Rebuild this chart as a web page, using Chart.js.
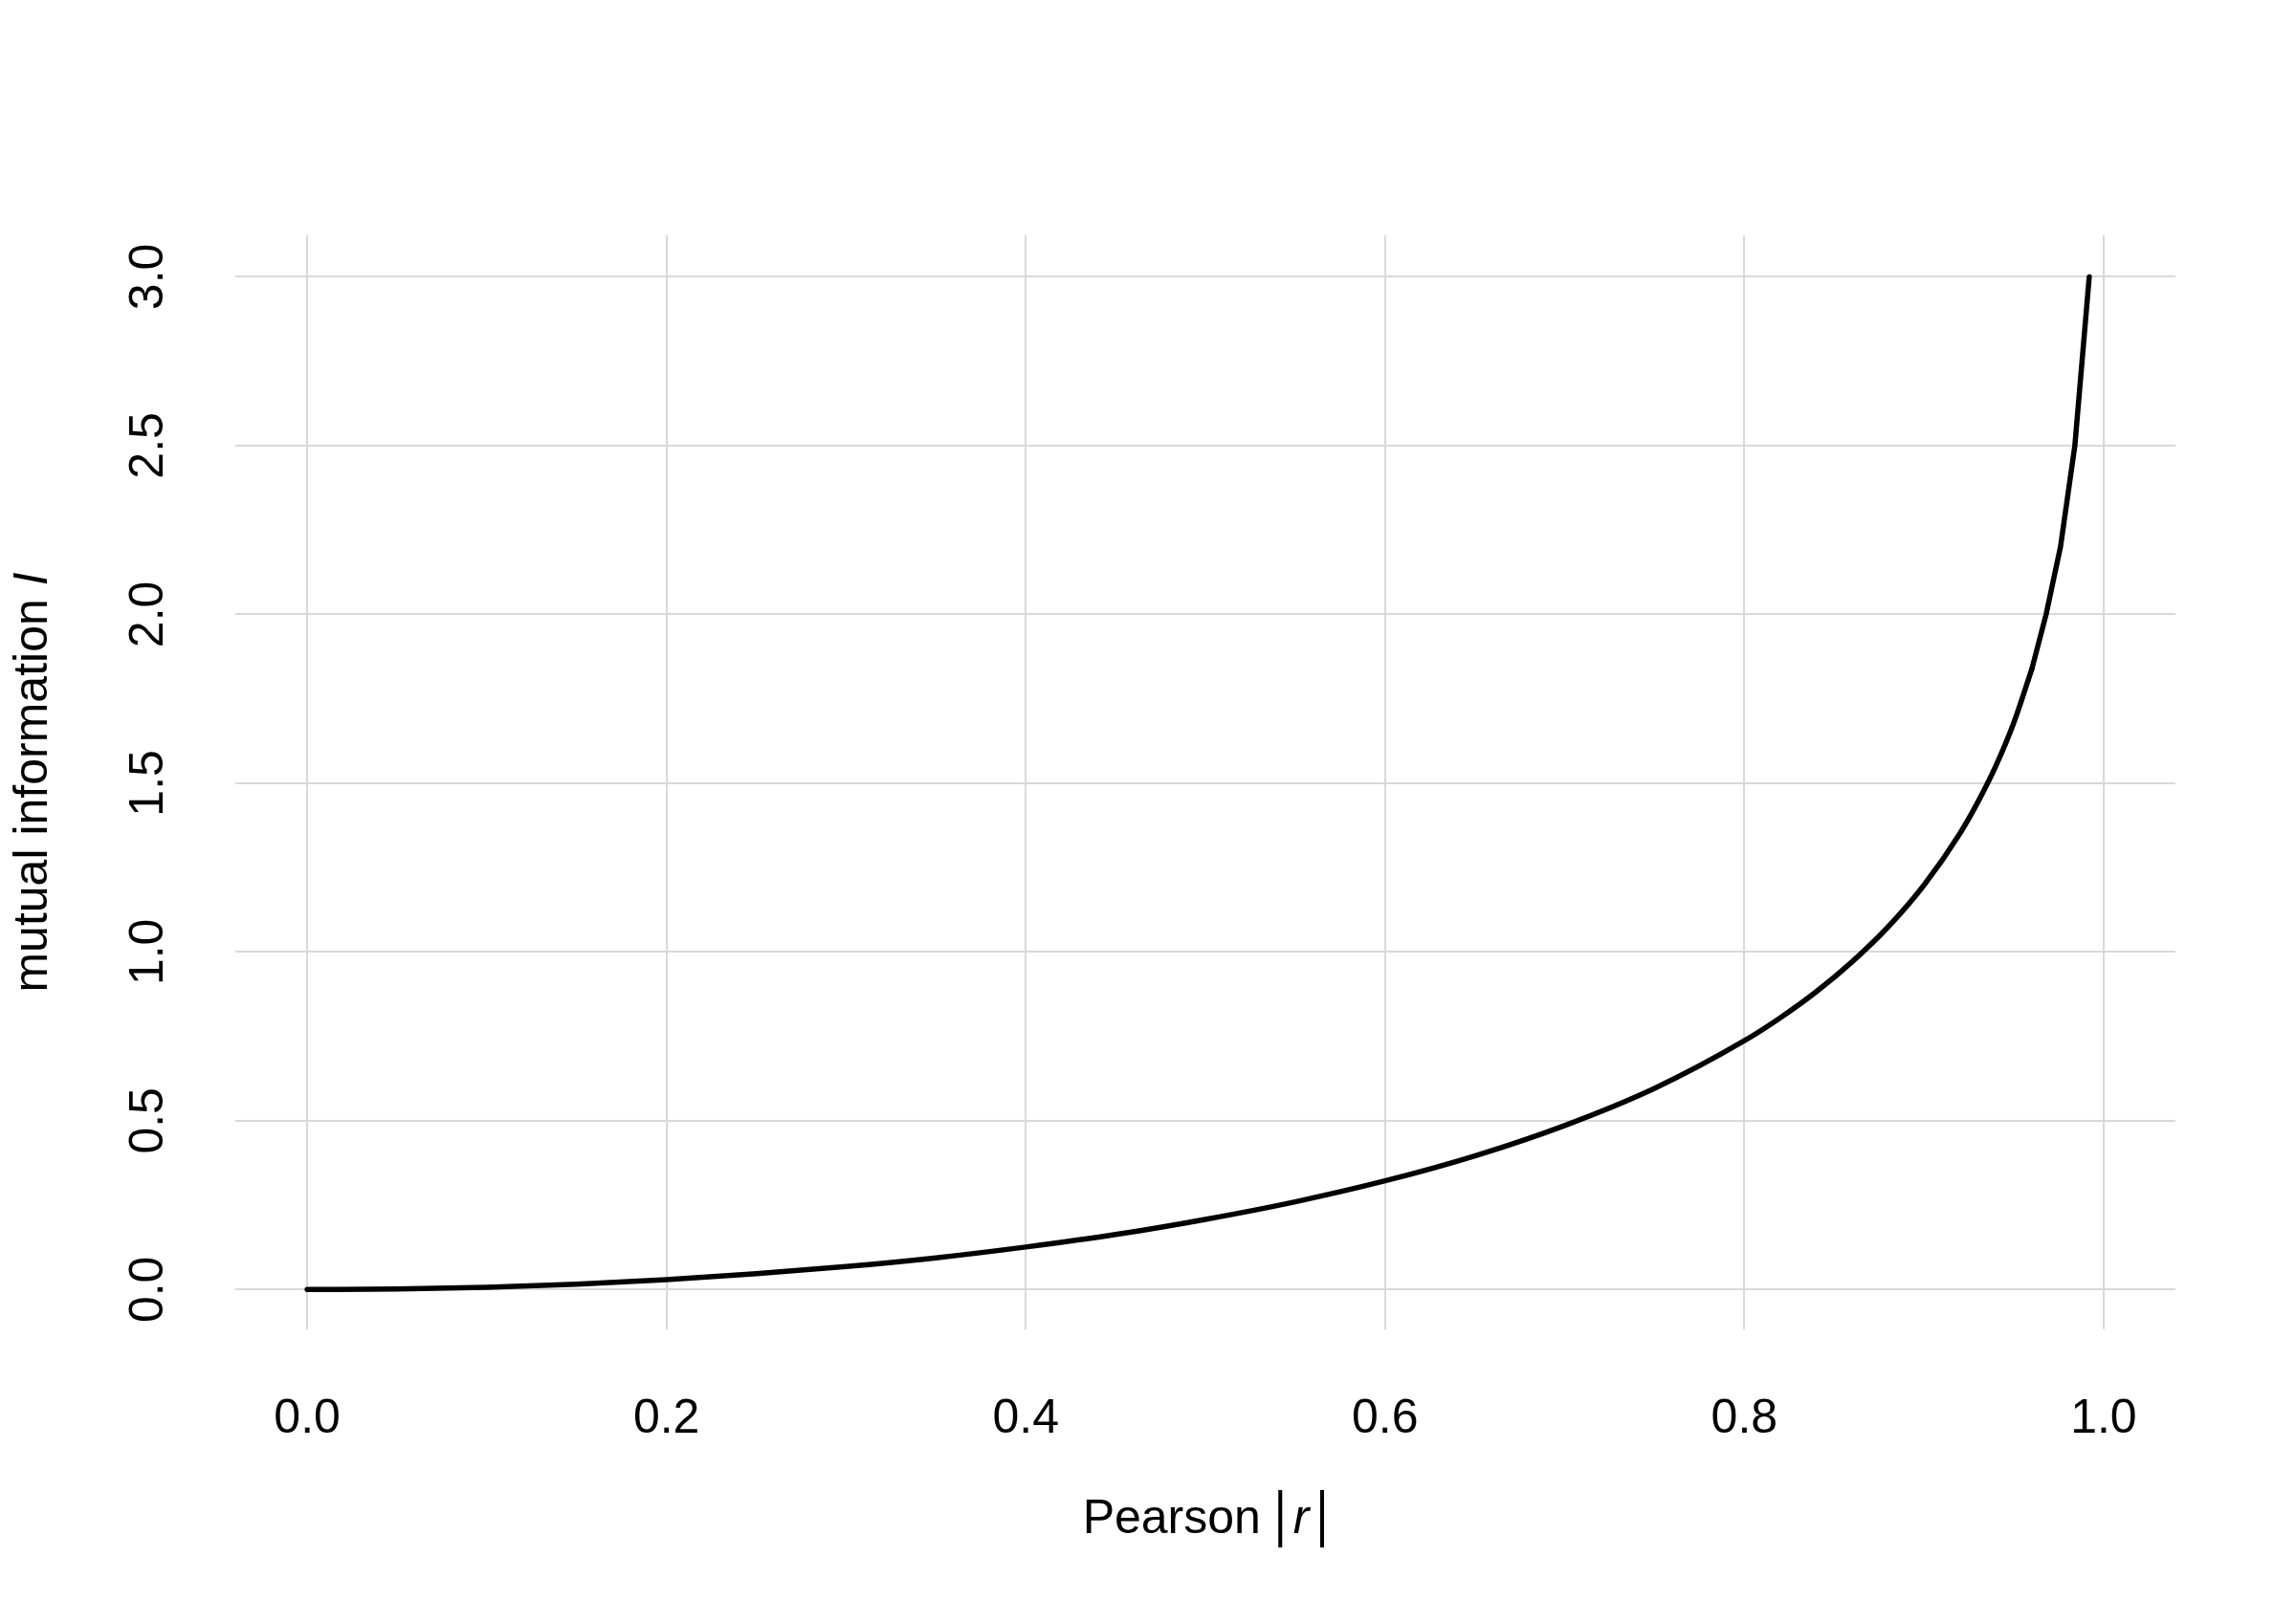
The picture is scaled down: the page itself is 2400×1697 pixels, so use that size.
<!DOCTYPE html>
<html>
<head>
<meta charset="utf-8">
<script src="https://cdn.jsdelivr.net/npm/chart.js@4/dist/chart.umd.min.js"></script>
<style>
  html, body { margin: 0; padding: 0; background: #ffffff; }
  #wrap { width: 2400px; height: 1697px; }
</style>
</head>
<body>
<div id="wrap"><canvas id="c" width="2400" height="1697"></canvas></div>
<script>
// Pearson |r| (x) and mutual information I (y)
const pearsonR = [0, 0.05, 0.10, 0.15, 0.20, 0.25, 0.30, 0.35, 0.40, 0.45, 0.50, 0.55, 0.60, 0.65,
                  0.70, 0.75, 0.80, 0.82, 0.84, 0.86, 0.88, 0.90, 0.92, 0.93, 0.94, 0.95, 0.96,
                  0.968, 0.976, 0.984, 0.992];
const mutualInfo = [0, 0.002, 0.007, 0.016, 0.029, 0.047, 0.068, 0.094, 0.126, 0.163, 0.208, 0.260, 0.322, 0.396,
                    0.486, 0.596, 0.737, 0.805, 0.882, 0.971, 1.074, 1.198, 1.351, 1.444, 1.551, 1.679, 1.837,
                    2.0, 2.2, 2.5, 3.0];
const xTicks = [0.0, 0.2, 0.4, 0.6, 0.8, 1.0];
const yTicks = [0.0, 0.5, 1.0, 1.5, 2.0, 2.5, 3.0];
const xTitleMain = 'Pearson ';
const xTitleVar = 'r';
const yTitleMain = 'mutual information ';
const yTitleVar = 'I';

const FONT = '"Liberation Sans", Arial, Helvetica, sans-serif';
const GRID = '#d9d9d9';

const points = pearsonR.map((r, i) => ({ x: r, y: mutualInfo[i] }));
// the dense lower part is drawn smooth, the sparse upper segments straight (as in the reference)
const splitIdx = pearsonR.indexOf(0.96);
const smoothPart = points.slice(0, splitIdx + 1);
const straightPart = points.slice(splitIdx);

const titlesPlugin = {
  id: 'richTitles',
  afterDraw(chart) {
    const ctx = chart.ctx;
    const area = chart.chartArea;
    // x-axis title: Pearson |r|
    ctx.save();
    ctx.fillStyle = '#000';
    ctx.textBaseline = 'alphabetic';
    const base = 1603;
    const fN = '50px ' + FONT;
    const fI = 'italic 50px ' + FONT;
    const fB = '50px ' + FONT;
    ctx.font = fN; const w1 = ctx.measureText(xTitleMain).width;
    ctx.font = fB; const wb = ctx.measureText('|').width;
    ctx.font = fI; const wr = ctx.measureText(xTitleVar).width;
    const gap = 7;
    const total = w1 + wb + gap + wr + gap + wb;
    let x = (area.left + area.right) / 2 - total / 2;
    ctx.font = fN; ctx.fillText(xTitleMain, x, base); x += w1;
    const drawBar = (bx) => {
      ctx.save();
      ctx.font = fB;
      ctx.translate(bx, 1587);
      ctx.scale(1, 1.28);
      ctx.textBaseline = 'middle';
      ctx.fillText('|', 0, 0);
      ctx.restore();
    };
    drawBar(x); x += wb + gap;
    ctx.font = fI; ctx.fillText(xTitleVar, x, base); x += wr + gap;
    drawBar(x);
    ctx.restore();

    // y-axis title: mutual information I (rotated)
    ctx.save();
    ctx.fillStyle = '#000';
    ctx.translate(35, (area.top + area.bottom) / 2);
    ctx.rotate(-Math.PI / 2);
    ctx.textBaseline = 'middle';
    const fy = '50px ' + FONT;
    const fyi = 'italic 50px ' + FONT;
    ctx.font = fy; const m1 = ctx.measureText(yTitleMain).width;
    ctx.font = fyi; const m2 = ctx.measureText(yTitleVar).width;
    let sx = -(m1 + m2) / 2;
    ctx.font = fy; ctx.fillText(yTitleMain, sx, 0);
    ctx.font = fyi; ctx.fillText(yTitleVar, sx + m1, 0);
    ctx.restore();
  }
};

const lineStyle = {
  showLine: true,
  borderColor: '#000000',
  backgroundColor: '#000000',
  borderWidth: 5.5,
  borderCapStyle: 'round',
  borderJoinStyle: 'round',
  pointRadius: 0,
  pointHoverRadius: 0
};

new Chart(document.getElementById('c'), {
  type: 'scatter',
  data: {
    datasets: [
      Object.assign({ data: smoothPart, cubicInterpolationMode: 'monotone' }, lineStyle),
      Object.assign({ data: straightPart, tension: 0 }, lineStyle)
    ]
  },
  options: {
    responsive: false,
    devicePixelRatio: 1,
    animation: false,
    layout: { padding: { left: 0, top: 246, right: 126, bottom: 0 } },
    plugins: { legend: { display: false }, tooltip: { enabled: false }, title: { display: false } },
    scales: {
      x: {
        type: 'linear',
        min: -0.04, max: 1.04,
        afterBuildTicks: s => { s.ticks = xTicks.map(v => ({ value: v })); },
        afterFit: s => { s.height = 1697 - 1390; },
        grid: { color: GRID, lineWidth: 2, drawTicks: false },
        border: { display: false },
        ticks: {
          padding: 64,
          color: '#000',
          font: { family: FONT, size: 50 },
          maxRotation: 0, minRotation: 0,
          callback: v => Number(v).toFixed(1)
        }
      },
      y: {
        type: 'linear',
        min: -0.118, max: 3.123,
        afterBuildTicks: s => { s.ticks = yTicks.map(v => ({ value: v })); },
        afterFit: s => { s.width = 246; },
        grid: { color: GRID, lineWidth: 2, drawTicks: false },
        border: { display: false },
        ticks: {
          padding: 55,
          color: '#000',
          crossAlign: 'center',
          minRotation: 90, maxRotation: 90,
          font: { family: FONT, size: 50 },
          callback: v => Number(v).toFixed(1)
        }
      }
    }
  },
  plugins: [titlesPlugin]
});
</script>
</body>
</html>
